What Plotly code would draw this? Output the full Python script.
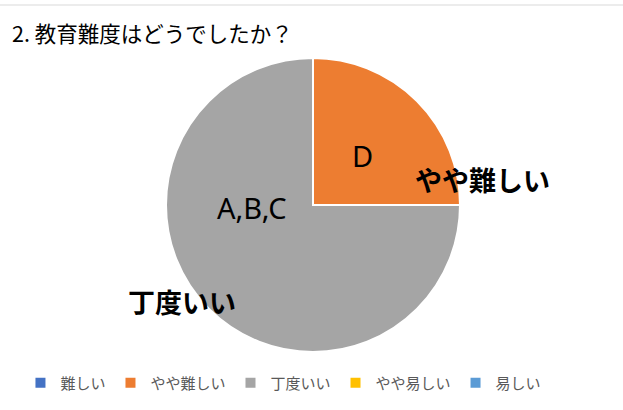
import plotly.graph_objects as go

categories = ["難しい", "やや難しい", "丁度いい", "やや易しい", "易しい"]
values = [0, 1, 3, 0, 0]
colors = ["#4472C4", "#ED7D31", "#A5A5A5", "#FFC000", "#5B9BD5"]
inner_labels = {"やや難しい": "D", "丁度いい": "A,B,C"}
title = "2. 教育難度はどうでしたか？"

W, H = 623, 410
font = "Noto Sans CJK JP"
latin = "Noto Sans"

fig = go.Figure()
fig.add_trace(go.Pie(
    labels=categories, values=values,
    marker=dict(colors=colors, line=dict(color="white", width=2)),
    sort=False, direction="clockwise", rotation=0,
    textinfo="none", hoverinfo="label+value",
    domain=dict(x=[166 / W, 460 / W], y=[(H - 352) / H, (H - 58) / H]),
    showlegend=True,
))

# data label annotations
ann = [
    dict(text=inner_labels["やや難しい"], x=362 / W, y=1 - 155 / H, size=29, bold=False, fam=latin),
    dict(text=inner_labels["丁度いい"], x=252 / W, y=1 - 207 / H, size=29, bold=False, fam=latin),
    dict(text=categories[1], x=482 / W, y=1 - 180 / H, size=27, bold=True, fam=font),
    dict(text=categories[2], x=182 / W, y=1 - 301 / H, size=27, bold=True, fam=font),
]
annotations = []
for a in ann:
    t = f"<b>{a['text']}</b>" if a["bold"] else a["text"]
    annotations.append(dict(text=t, x=a["x"], y=a["y"], xref="paper", yref="paper",
                            showarrow=False, xanchor="center", yanchor="middle",
                            font=dict(family=a["fam"], size=a["size"], color="#000000")))
annotations.append(dict(text=title, x=10 / W, y=1 - 33 / H, xref="paper", yref="paper",
                        showarrow=False, xanchor="left", yanchor="middle",
                        font=dict(family=font, size=21.5, color="#000000")))

fig.update_layout(
    width=W, height=H,
    margin=dict(l=0, r=0, t=0, b=0),
    paper_bgcolor="white", plot_bgcolor="white",
    annotations=annotations,
    legend=dict(orientation="h", x=0.455, xanchor="center", y=1 - 383 / H, yanchor="middle",
                font=dict(family=font, size=15, color="#595959"),
                itemwidth=30, traceorder="normal"),
    shapes=[dict(type="line", xref="paper", yref="paper", x0=0, x1=1,
                 y0=1 - 5 / H, y1=1 - 5 / H, line=dict(color="#D9D9D9", width=1))],
)

fig.write_html("out.html")
